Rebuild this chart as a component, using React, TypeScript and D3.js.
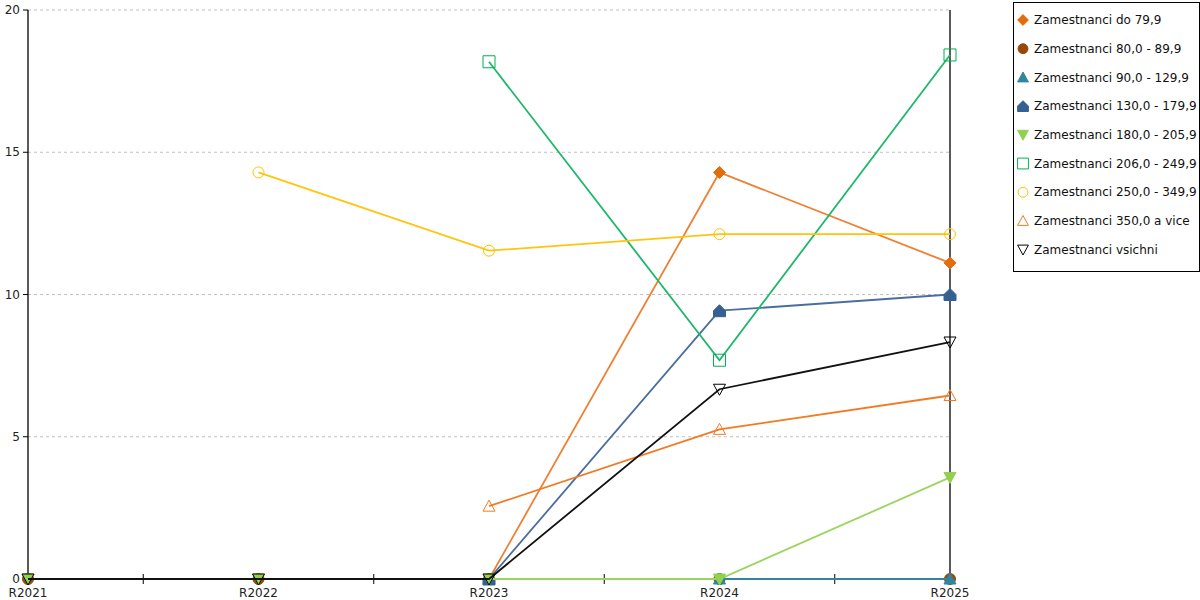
import React from "react";
import * as d3 from "d3";

const categories = ["R2021", "R2022", "R2023", "R2024", "R2025"];
const yTicks = [0, 5, 10, 15, 20];

const seriesNames = [
  "Zamestnanci do 79,9",
  "Zamestnanci 80,0 - 89,9",
  "Zamestnanci 90,0 - 129,9",
  "Zamestnanci 130,0 - 179,9",
  "Zamestnanci 180,0 - 205,9",
  "Zamestnanci 206,0 - 249,9",
  "Zamestnanci 250,0 - 349,9",
  "Zamestnanci 350,0 a vice",
  "Zamestnanci vsichni",
];

const sDo79: (number | null)[] = [0, 0, 0, 14.29, 11.11];
const s80: (number | null)[] = [0, 0, 0, 0, 0];
const s90: (number | null)[] = [null, null, 0, 0, 0];
const s130: (number | null)[] = [null, null, 0, 9.43, 10.0];
const s180: (number | null)[] = [0, 0, 0, 0, 3.57];
const s206: (number | null)[] = [null, null, 18.18, 7.69, 18.42];
const s250: (number | null)[] = [null, 14.29, 11.54, 12.12, 12.12];
const s350: (number | null)[] = [null, null, 2.56, 5.26, 6.45];
const sAll: (number | null)[] = [0, 0, 0, 6.67, 8.33];

const seriesValues = [sDo79, s80, s90, s130, s180, s206, s250, s350, sAll];
const colors = ["#E46C0A", "#974806", "#31859C", "#376092", "#92D050", "#00B050", "#FFC000", "#F47920", "#000000"];
const lineColors = ["#EE8033", "#974806", "#31859C", "#4A6E9E", "#9BD55E", "#1DB86A", "#FFC40D", "#F47920", "#111111"];
const shapes = ["diamond", "circle", "triangle", "house", "tridown", "square", "circle", "triangle", "tridown"];
const filled = [true, true, true, true, true, false, false, false, false];

const FONT = "DejaVu Sans, Verdana, sans-serif";

function markerPath(shape: string): string {
  switch (shape) {
    case "diamond":
      return "M0,-6L6,0L0,6L-6,0Z";
    case "circle":
      return "M5.5,0A5.5,5.5 0 1,1 -5.5,0A5.5,5.5 0 1,1 5.5,0Z";
    case "triangle":
      return "M0,-6L6,5L-6,5Z";
    case "tridown":
      return "M-6,-5L6,-5L0,6Z";
    case "square":
      return "M-6,-6L6,-6L6,6L-6,6Z";
    case "house":
      return "M-6,6L6,6L6,0L0,-6L-6,0Z";
  }
  return "";
}

export default function App() {
  const left = 28;
  const right = 950;
  const top = 10;
  const bottom = 579;

  const x = d3.scalePoint<string>().domain(categories).range([left, right]);
  const y = d3.scaleLinear().domain([0, 20]).range([bottom, top]);
  const step = x.step();

  const line = d3
    .line<number | null>()
    .defined((d) => d !== null)
    .x((_, i) => x(categories[i]) as number)
    .y((d) => y(d as number));

  const legendX = 1013;
  const legendY = 2;
  const legendW = 186;
  const legendH = 269;
  const itemStep = 28.7;

  return (
    <svg
      width={1200}
      height={600}
      style={{ position: "absolute", left: 0, top: 0, background: "#fff" }}
      fontFamily={FONT}
    >
      {/* grid */}
      {yTicks
        .filter((t) => t > 0)
        .map((t) => (
          <line
            key={"g" + t}
            x1={left}
            x2={right}
            y1={y(t)}
            y2={y(t)}
            stroke="#c0c0c0"
            strokeWidth={1}
            strokeDasharray="3,3"
          />
        ))}
      {/* y axis */}
      <line x1={left} x2={left} y1={top} y2={bottom} stroke="#000" strokeWidth={1.3} />
      {yTicks.map((t) => (
        <g key={"yt" + t}>
          <line x1={left - 5} x2={left} y1={y(t)} y2={y(t)} stroke="#000" />
          <text x={left - 8} y={y(t)} dy="0.35em" textAnchor="end" fontSize={12} fill="#222">
            {t}
          </text>
        </g>
      ))}
      {/* right line */}
      <line x1={right} x2={right} y1={top} y2={bottom} stroke="#000" strokeWidth={1.3} />
      {/* x axis */}
      <line x1={left} x2={right} y1={bottom} y2={bottom} stroke="#000" strokeWidth={1.3} />
      {categories.slice(0, -1).map((c, i) => {
        const mx = (x(c) as number) + step / 2;
        return <line key={"xt" + i} x1={mx} x2={mx} y1={bottom - 5} y2={bottom + 5} stroke="#000" />;
      })}
      {categories.map((c) => (
        <text key={"xl" + c} x={x(c) as number} y={bottom + 18} textAnchor="middle" fontSize={12} fill="#222">
          {c}
        </text>
      ))}
      {/* series */}
      {seriesValues.map((vals, si) => (
        <g key={"s" + si}>
          <path d={line(vals) || ""} fill="none" stroke={lineColors[si]} strokeWidth={1.8} />
          {vals.map((v, i) =>
            v === null ? null : (
              <path
                key={i}
                d={markerPath(shapes[si])}
                transform={`translate(${x(categories[i])},${y(v)})`}
                fill={filled[si] ? colors[si] : "none"}
                stroke={colors[si]}
                strokeWidth={1}
              />
            )
          )}
        </g>
      ))}
      {/* legend */}
      <rect x={legendX + 0.5} y={legendY + 0.5} width={legendW} height={legendH} fill="#fff" stroke="#000" strokeWidth={1} />
      {seriesNames.map((n, i) => {
        const cy = legendY + 18 + i * itemStep;
        return (
          <g key={"l" + i}>
            <path
              d={markerPath(shapes[i])}
              transform={`translate(${legendX + 10},${cy}) scale(0.9)`}
              fill={filled[i] ? colors[i] : "none"}
              stroke={colors[i]}
              strokeWidth={1.1}
            />
            <text x={legendX + 21} y={cy} dy="0.35em" fontSize={12} fill="#111">
              {n}
            </text>
          </g>
        );
      })}
    </svg>
  );
}
